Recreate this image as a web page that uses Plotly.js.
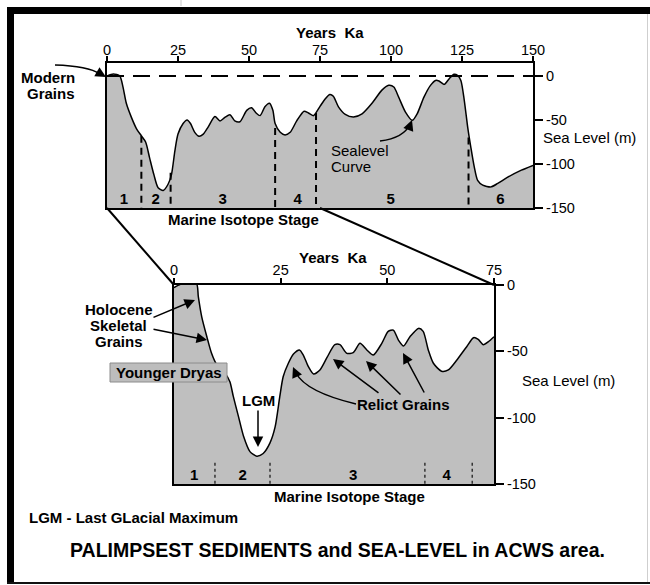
<!DOCTYPE html>
<html>
<head>
<meta charset="utf-8">
<script src="https://cdn.plot.ly/plotly-3.0.1.min.js"></script>
<style>html,body{margin:0;padding:0;background:#fff;}#chart{width:650px;height:585px;}</style>
</head>
<body>
<div id="chart"></div>
<script>
// ---- Data: sea level curve, last 150 ka (upper panel) ----
const topAge = [0, 2.2, 4.5, 5.6, 6.8, 8.6, 10.4, 12.1, 13.6, 15, 16.5, 18, 19.8, 21.5, 22.7, 23.9, 25, 26.8, 28.2, 29.4, 30.9, 32.4, 33.9, 35.6, 38, 39.8, 41.5, 43.3, 45, 46.8, 49.2, 50.9, 52.5, 53.9, 55.6, 57.2, 58.4, 59.2, 61, 62.7, 64.5, 66.8, 69.4, 70.9, 72.7, 75, 76.8, 78.5, 79.7, 81.5, 83.9, 86.8, 89.8, 93.3, 96.8, 99.2, 101, 102.7, 105.1, 107.5, 109.2, 111.6, 113.9, 115.7, 116.9, 118.7, 120.5, 122.2, 123.4, 124.6, 125.8, 127, 128.1, 129.3, 130.5, 132.3, 135.2, 137.6, 141.1, 145.9, 150];
const topSea = [0, 2.3, 0, -12, -31, -47, -60, -68, -75, -93, -112, -127, -130, -123, -112, -85, -66, -54, -50, -54, -64, -68.5, -66, -58, -46, -51, -47, -44, -51, -52, -39, -36, -42, -45, -35, -31, -39, -54, -64, -67, -64, -51, -40, -42, -45, -34.5, -26, -21, -23, -35, -43.6, -46.6, -43, -31, -16, -10.6, -12.5, -24, -41, -50.4, -43, -24, -10.6, -5, -5.7, -9.5, -3, 2, 0.8, -5, -27.6, -58, -80.7, -103, -118.6, -124, -126, -122, -115, -107, -101.5];
// stage boundaries (ka) and the sea level where each dashed line meets the curve
const topBound = [12.1, 22.4, 59.2, 73.6, 127.3];
const topBoundSea = [-68, -110, -59, -42, -70];
const topStage = ['1', '2', '3', '4', '5', '6'];
const topStageAge = [6, 17.1, 40.7, 67.1, 99.9, 138.5];
const topTicks = [0, 25, 50, 75, 100, 125, 150];

// ---- Data: detail, last 75 ka (lower panel) ----
const botAge = [0, 1.5, 3.4, 5.3, 5.7, 6.5, 7.7, 8.8, 10, 12, 13.1, 13.9, 15.1, 16.3, 17.8, 19.4, 20.9, 22.5, 23.7, 24.8, 25.6, 26.8, 28, 29.4, 30.3, 31.5, 32.7, 34.2, 35.8, 37.7, 38.9, 40.5, 42, 43.6, 45.2, 46.7, 48.7, 50.2, 51.4, 52.6, 53.8, 55.3, 57.3, 58.4, 59.6, 60.8, 62.7, 64.3, 66.3, 68.6, 70.2, 71.3, 72.5, 73.7, 75];
const botSea = [-2, 0.5, 1.8, 0.8, -8.8, -24, -39, -51.5, -60, -66.6, -73, -84, -99, -114, -125.6, -129, -127, -119, -107, -84, -69, -59, -52, -49, -52.8, -61.6, -67, -64, -55, -45, -45, -51.5, -51, -44, -49, -52.8, -44, -35, -34, -41.5, -46, -39, -32.7, -35, -49, -59, -65, -64, -56.5, -46.5, -39.7, -41, -45, -42.7, -39];
const botBound = [9.6, 22.5, 58.8, 69.9];
const botStage = ['1', '2', '3', '4'];
const botStageAge = [4.7, 16.1, 42, 63.9];
const botTicks = [0, 25, 50, 75];

const seaTicks = [0, -50, -100, -150];
const seaTickText = ['0', '-50', '-100', '-150'];
const seaFloor = -150;

// ---- helpers ----
const W = 650, H = 585;
const FONT = 'Liberation Sans, Arial, Helvetica, sans-serif';
const px = x => x / W;
const py = y => 1 - y / H;

function vlines(xs, tops, bottom) {
  const X = [], Y = [];
  xs.forEach((x, i) => { X.push(x, x, null); Y.push(tops[i], bottom, null); });
  return {x: X, y: Y};
}

const topV = vlines(topBound, topBoundSea, seaFloor);
const botV = vlines(botBound, botBound.map(() => -134), seaFloor);

const traces = [
  {x: [topTicks[0], topTicks[topTicks.length - 1]], y: [seaFloor, seaFloor], xaxis: 'x', yaxis: 'y', mode: 'lines', line: {width: 0}, hoverinfo: 'skip'},
  {x: topAge, y: topSea, xaxis: 'x', yaxis: 'y', mode: 'lines', fill: 'tonexty', fillcolor: '#bfbfbf',
   line: {color: '#000', width: 1.5, shape: 'spline', smoothing: 0.7}, hoverinfo: 'skip'},
  {x: [topTicks[0], topTicks[topTicks.length - 1]], y: [0, 0], xaxis: 'x', yaxis: 'y', mode: 'lines',
   line: {color: '#000', width: 2, dash: '17px,9px'}, hoverinfo: 'skip'},
  {x: topV.x, y: topV.y, xaxis: 'x', yaxis: 'y', mode: 'lines', line: {color: '#000', width: 2, dash: '7px,5px'}, hoverinfo: 'skip'},
  {x: topStageAge, y: topStageAge.map(() => -141), text: topStage.map(s => '<b>' + s + '</b>'), xaxis: 'x', yaxis: 'y',
   mode: 'text', textfont: {family: FONT, size: 15, color: '#000'}, hoverinfo: 'skip'},

  {x: [botTicks[0], botTicks[botTicks.length - 1]], y: [seaFloor, seaFloor], xaxis: 'x2', yaxis: 'y2', mode: 'lines', line: {width: 0}, hoverinfo: 'skip'},
  {x: botAge, y: botSea, xaxis: 'x2', yaxis: 'y2', mode: 'lines', fill: 'tonexty', fillcolor: '#bfbfbf',
   line: {color: '#000', width: 1.5, shape: 'spline', smoothing: 0.7}, hoverinfo: 'skip'},
  {x: botV.x, y: botV.y, xaxis: 'x2', yaxis: 'y2', mode: 'lines', line: {color: '#333', width: 1.5, dash: 'dot'}, hoverinfo: 'skip'},
  {x: botStageAge, y: botStageAge.map(() => -144), text: botStage.map(s => '<b>' + s + '</b>'), xaxis: 'x2', yaxis: 'y2',
   mode: 'text', textfont: {family: FONT, size: 15, color: '#000'}, hoverinfo: 'skip'}
];

const axBase = {
  showgrid: false, zeroline: false, showline: true, linecolor: '#000', linewidth: 2, mirror: true,
  ticks: 'outside', tickcolor: '#000', tickwidth: 2, tickfont: {family: FONT, size: 14.5, color: '#000'}, fixedrange: true
};

const layout = {
  width: W, height: H, margin: {l: 0, r: 0, t: 0, b: 0}, paper_bgcolor: '#fff', plot_bgcolor: 'rgba(0,0,0,0)',
  showlegend: false, hovermode: false,
  xaxis: Object.assign({}, axBase, {domain: [px(107), px(533)], range: [0, 150], side: 'top', anchor: 'y', tickvals: topTicks, ticklen: 5, ticklabelstandoff: -5}),
  yaxis: Object.assign({}, axBase, {domain: [py(208), py(63)], range: [-150, 14.8], side: 'right', anchor: 'x', tickvals: seaTicks, ticktext: seaTickText, ticklen: 8}),
  xaxis2: Object.assign({}, axBase, {domain: [px(174), px(494)], range: [0, 75], side: 'top', anchor: 'y2', tickvals: botTicks, ticklen: 5, ticklabelstandoff: -3}),
  yaxis2: Object.assign({}, axBase, {domain: [py(484), py(285)], range: [-150, 0], side: 'right', anchor: 'x2', tickvals: seaTicks, ticktext: seaTickText, ticklen: 8}),
  shapes: [], annotations: []
};

function P(x, y) { return px(x).toFixed(5) + ',' + py(y).toFixed(5); }
function line(x0, y0, x1, y1, w, c) {
  layout.shapes.push({type: 'line', xref: 'paper', yref: 'paper', x0: px(x0), y0: py(y0), x1: px(x1), y1: py(y1), line: {color: c || '#000', width: w}});
}
function rect(x0, y0, x1, y1, fill, lc, lw) {
  layout.shapes.push({type: 'rect', xref: 'paper', yref: 'paper', x0: px(x0), y0: py(y0), x1: px(x1), y1: py(y1), fillcolor: fill, line: {color: lc || fill, width: lw || 0}, layer: 'above'});
}
function curve(x0, y0, cx, cy, x1, y1) {
  layout.shapes.push({type: 'path', xref: 'paper', yref: 'paper', path: 'M' + P(x0, y0) + ' Q' + P(cx, cy) + ' ' + P(x1, y1), line: {color: '#000', width: 1.5}});
}
function text(t, x, y, size, bold, xanchor) {
  layout.annotations.push({text: bold ? '<b>' + t + '</b>' : t, x: px(x), y: py(y), xref: 'paper', yref: 'paper',
    xanchor: xanchor || 'center', yanchor: 'middle', showarrow: false, font: {family: FONT, size: size, color: '#000'}});
}
function arrow(tx, ty, fx, fy) {
  layout.annotations.push({text: '', x: px(tx), y: py(ty), xref: 'paper', yref: 'paper', ax: fx - tx, ay: fy - ty,
    showarrow: true, arrowhead: 2, arrowsize: 1.4, arrowwidth: 1.5, arrowcolor: '#000', standoff: 0, startstandoff: 0});
}

// outer frame
rect(7, 7, 650, 14, '#000');
rect(7, 7, 14, 584, '#000');
rect(7, 582, 650, 584, '#111');
line(647.5, 14, 647.5, 582, 1, '#cfcfcf');
line(181, 0, 181, 6, 1, '#c8c8c8');

// zoom connector lines
line(107, 208, 174, 285, 2);
line(320, 208, 494, 285, 2);

// Younger Dryas box
rect(110, 363, 227, 382, '#bdbdbd', '#8c8c8c', 1);

// texts
text('Years\u00a0\u00a0Ka', 330, 32, 15, true);
text('Years\u00a0\u00a0Ka', 333, 257, 15, true);
text('Marine Isotope Stage', 243, 219, 15, true);
text('Marine Isotope Stage', 349.5, 496, 15, true);
text('Sea Level (m)', 589, 137, 15, false);
text('Sea Level (m)', 568, 380, 15, false);
text('Modern', 77, 78, 15, true, 'right');
text('Grains', 77, 93, 15, true, 'right');
text('Sealevel', 329, 150, 15, false, 'left');
text('Curve', 329, 166, 15, false, 'left');
text('Holocene', 118.5, 309, 15, true);
text('Skeletal', 118.5, 325, 15, true);
text('Grains', 118.5, 341, 15, true);
text('Younger Dryas', 169, 372.5, 15, true);
text('LGM', 258, 400, 15, true);
text('Relict Grains', 404, 404, 15, true);
text('LGM - Last GLacial Maximum', 27, 517, 15, true, 'left');
text('PALIMPSEST SEDIMENTS and SEA-LEVEL in ACWS area.', 337.5, 550, 19.5, true);

// arrows
curve(55, 65, 88, 66, 100, 74);
arrow(106, 77, 99, 73);
curve(380, 141, 404, 138, 410, 124);
arrow(412, 120, 409, 128);
arrow(195, 300, 152, 318);
arrow(207, 340, 152, 329);
arrow(258, 447, 258, 409);
curve(356, 404, 306, 392, 296, 373);
arrow(293, 367, 296, 374);
arrow(333, 359, 380, 394);
arrow(366, 361, 402, 396);
arrow(403, 353, 425, 394);

Plotly.newPlot('chart', traces, layout, {staticPlot: true, displayModeBar: false});
</script>
</body>
</html>
